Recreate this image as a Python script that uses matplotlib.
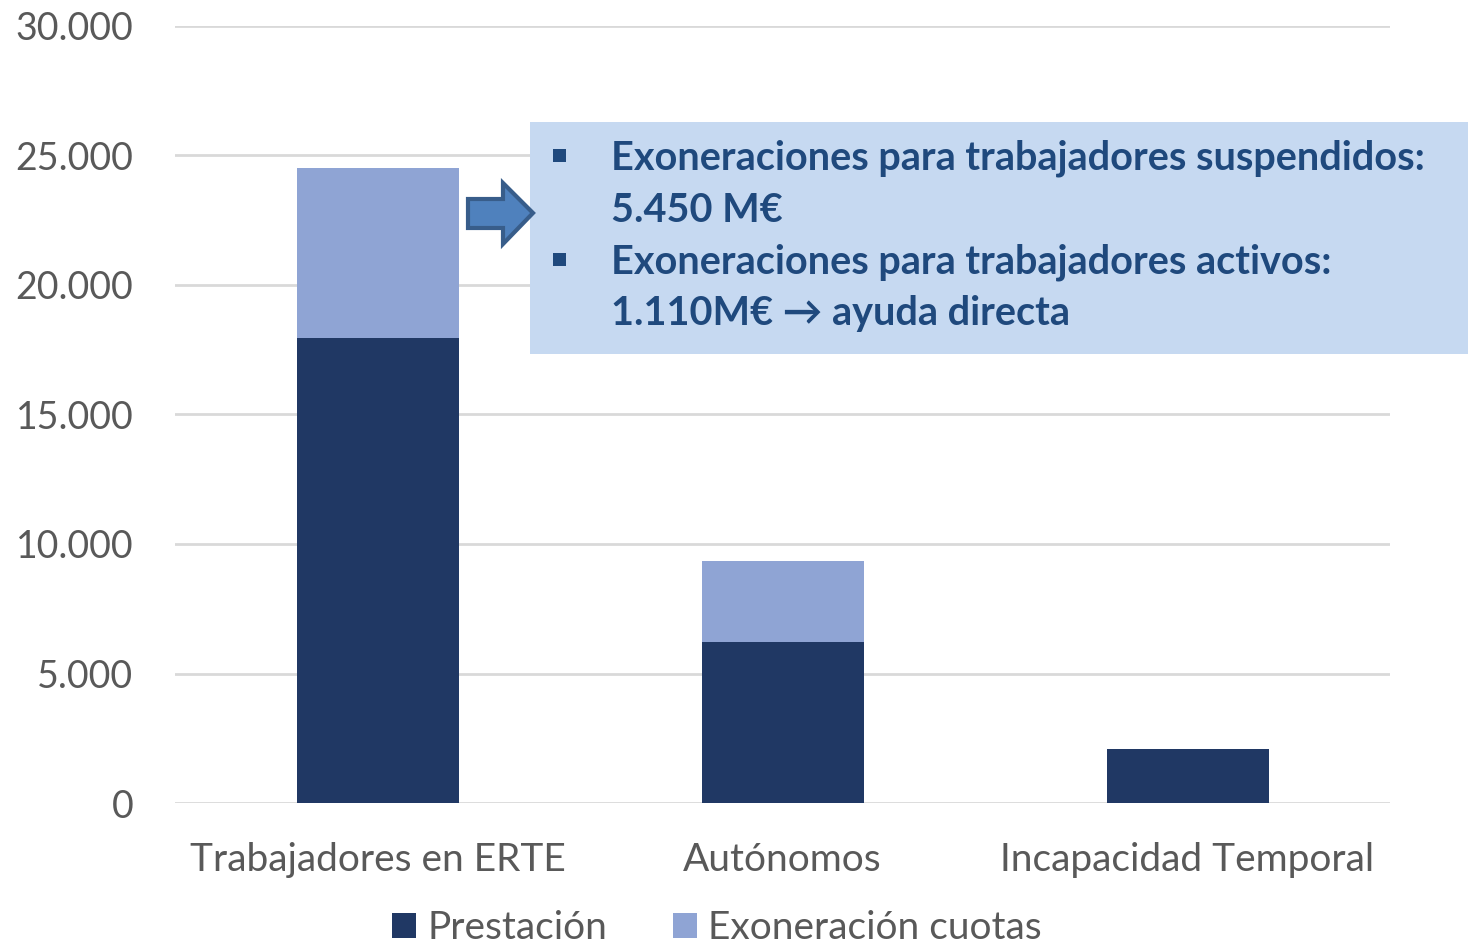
import matplotlib.pyplot as plt
import matplotlib.patches as mpatches
import numpy as np

categorias = ["Trabajadores en ERTE", "Autónomos", "Incapacidad Temporal"]
prestacion = [17950, 6200, 2100]
exoneracion = [6560, 3150, 0]
yticks = [0, 5000, 10000, 15000, 20000, 25000, 30000]
ytick_labels = ["0", "5.000", "10.000", "15.000", "20.000", "25.000", "30.000"]
nota = ["Exoneraciones para trabajadores suspendidos:",
        "5.450 M€",
        "Exoneraciones para trabajadores activos:",
        "1.110M€ \u2192 ayuda directa"]

plt.rcParams['font.family'] = ['Lato', 'DejaVu Sans']

W, H = 1468, 951
fig = plt.figure(figsize=(W / 100, H / 100), dpi=100)
ax = fig.add_axes([175 / W, 1 - 803 / H, (1390 - 175) / W, (803 - 26) / H])

x = np.arange(len(categorias))
ax.bar(x, prestacion, width=0.4, color="#203864", label="Prestación", zorder=3)
ax.bar(x, exoneracion, width=0.4, bottom=prestacion, color="#8FA4D4",
       label="Exoneración cuotas", zorder=3)

ax.set_xlim(-0.5, 2.5)
ax.set_ylim(0, 30000)
ax.set_yticks(yticks)
ax.set_yticklabels(ytick_labels)
ax.set_xticks(x)
ax.set_xticklabels(categorias)
ax.grid(axis="y", color="#D9D9D9", linewidth=2, zorder=0)
for s in ax.spines.values():
    s.set_visible(False)
ax.tick_params(axis="x", length=0, labelsize=28, colors="#595959", pad=28)
ax.tick_params(axis="y", length=0, labelsize=27, colors="#595959", pad=30)

fig.legend(loc="center", bbox_to_anchor=(717 / W, 1 - 928 / H), ncol=2,
           frameon=False, fontsize=28, labelcolor="#595959",
           handlelength=0.6, handleheight=0.6, handletextpad=0.3,
           columnspacing=1.7, borderpad=0.1)

# overlay in pixel coordinates for the callout
ov = fig.add_axes([0, 0, 1, 1], zorder=5)
ov.set_xlim(0, W)
ov.set_ylim(H, 0)
ov.axis("off")
ov.patch.set_alpha(0)

ov.add_patch(mpatches.Rectangle((530, 122), W - 530, 232, facecolor="#C6D9F1",
                                edgecolor="none"))
flecha = [(468, 199), (503, 199), (503, 183), (533, 213), (503, 244),
          (503, 228), (468, 228)]
ov.add_patch(mpatches.Polygon(flecha, closed=True, facecolor="#4F81BD",
                              edgecolor="#385D8A", linewidth=3))

ys = [158, 210, 262, 313]
for i, (t, y) in enumerate(zip(nota, ys)):
    ov.text(611, y, t, fontsize=28.5, fontweight="bold", color="#1F497D",
            va="center", ha="left",
            family=['Lato', 'DejaVu Sans'])
    if i % 2 == 0:
        ov.add_patch(mpatches.Rectangle((553, y - 9), 13, 13,
                                        facecolor="#1F497D", edgecolor="none"))

fig.savefig("out.png", dpi=100)
